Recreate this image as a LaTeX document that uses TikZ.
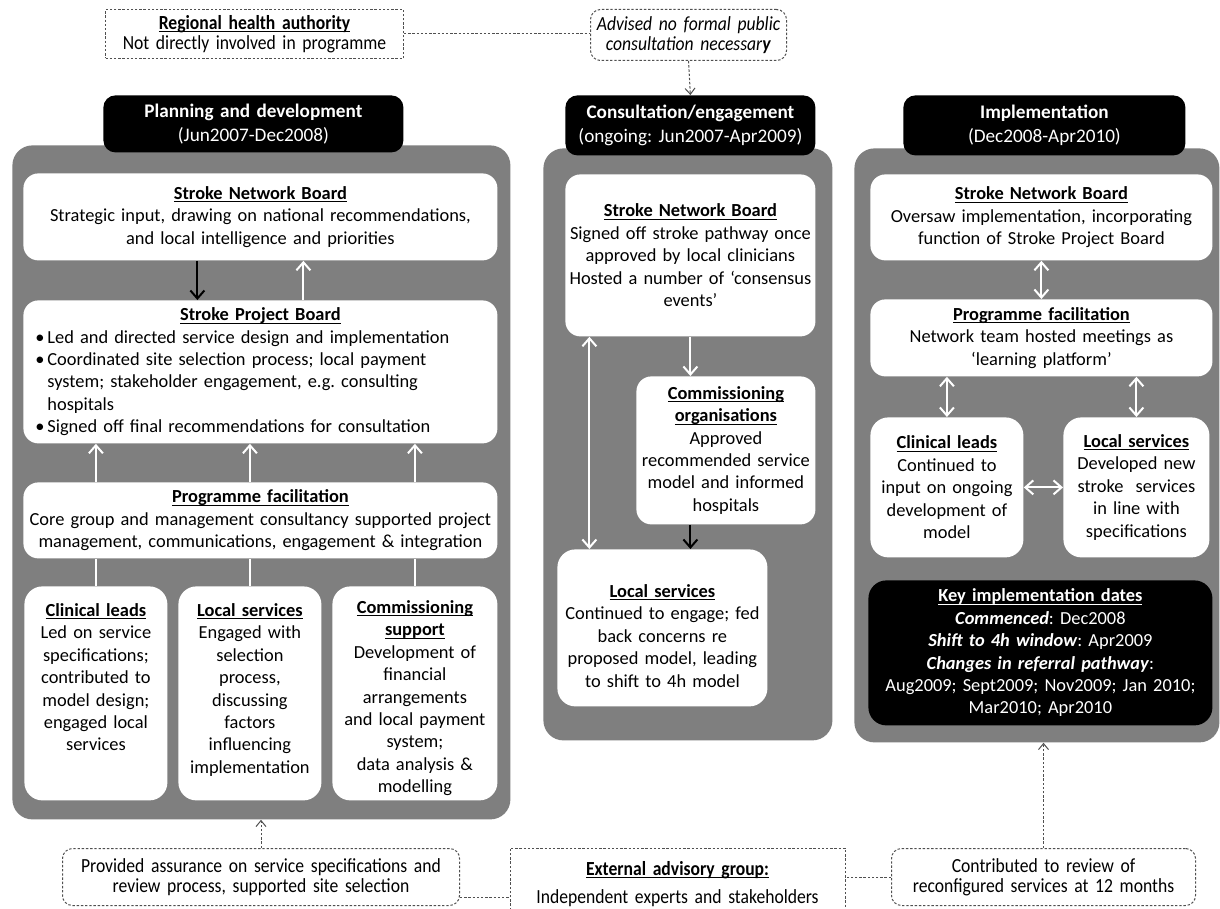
\documentclass[tikz,border=0pt]{standalone}
\usepackage{fontspec}
\setmainfont{Carlito}
\newfontfamily\condfont[FakeStretch=0.88]{Carlito}
\usetikzlibrary{arrows.meta,calc}
\definecolor{panelgray}{RGB}{127,127,127}
\definecolor{dashgray}{RGB}{80,80,80}
\newsavebox\ttlbox
\newcommand\ttl[1]{\leavevmode\sbox\ttlbox{\textbf{#1}}\rlap{\rule[-1.4pt]{\wd\ttlbox}{0.5pt}}\usebox\ttlbox}
\newcommand\bul{\makebox[6pt][l]{\textbullet}}
\newcommand\ind{\hspace*{6pt}}
\frenchspacing
\tikzset{
  panel/.style={fill=panelgray, rounded corners=10pt, inner sep=0pt, anchor=north west},
  hdr/.style={fill=black, text=white, rounded corners=6pt, inner sep=0pt, anchor=north west, align=center, font=\frenchspacing\fontsize{9.6pt}{12pt}\selectfont},
  wbox/.style={fill=white, rounded corners=7.5pt, inner sep=0pt, anchor=north west, align=center, font=\frenchspacing\fontsize{9.2pt}{11.2pt}\selectfont},
  kbox/.style={wbox, fill=black, text=white},
  dline/.style={draw=dashgray, line width=0.5pt, dash pattern=on 1.2pt off 0.9pt},
  dbox/.style={dline, inner sep=0pt, anchor=north west, align=center, font=\condfont\frenchspacing\fontsize{10pt}{10pt}\selectfont},
  darrow/.style={dline, -{Straight Barb[length=3pt,width=5pt]}},
  warrow/.style={draw=white, line width=1pt, -{Straight Barb[length=4pt,width=7pt]}},
  wdarrow/.style={draw=white, line width=1pt, {Straight Barb[length=4pt,width=7pt]}-{Straight Barb[length=4pt,width=7pt]}},
  wline/.style={draw=white, line width=1pt},
  barrow/.style={draw=black, line width=1pt, -{Straight Barb[length=4pt,width=7pt]}},
}
\begin{document}
\begin{tikzpicture}[x=0.5pt,y=-0.5pt]
\useasboundingbox[fill=white] (0,0) rectangle (1220,909);
% panels
\node[panel, minimum width=249pt, minimum height=337pt] (lpanel) at (12,145) {};
\node[panel, minimum width=144.5pt, minimum height=296pt] (mpanel) at (543,148) {};
\node[panel, minimum width=182.5pt, minimum height=297pt] (rpanel) at (854,148) {};
% headers
\node[hdr, minimum width=150pt, minimum height=28.5pt, text width=146pt] (lhead) at (103,95) {\textbf{Planning and development}\\(Jun2007-Dec2008)};
\node[hdr, minimum width=125pt, minimum height=30pt, text width=121pt] (chead) at (565,95) {\textbf{Consultation/engagement}\\(ongoing: Jun2007-Apr2009)};
\node[hdr, minimum width=141pt, minimum height=30pt, text width=137pt] (ihead) at (903,95) {\textbf{Implementation}\\(Dec2008-Apr2010)};
% left column
\node[wbox, minimum width=237pt, minimum height=43.5pt, text width=233pt] (lsnb) at (23,173) {\ttl{Stroke Network Board}\\Strategic input, drawing on national recommendations,\\and local intelligence and priorities};
\node[wbox, align=left, minimum width=237pt, minimum height=71.5pt, text width=225pt] (lspb) at (23,300) {\centerline{\ttl{Stroke Project Board}}
\bul Led and directed service design and implementation\\
\bul Coordinated site selection process; local payment\\
\ind system; stakeholder engagement, e.g. consulting\\
\ind hospitals\\
\bul Signed off final recommendations for consultation};
\node[wbox, minimum width=237pt, minimum height=38pt, text width=235pt] (lpf) at (23,482) {\ttl{Programme facilitation}\\Core group and management consultancy supported project\\management, communications, engagement \& integration};
\node[wbox, rounded corners=9pt, minimum width=71.5pt, text height=15pt, text depth=92pt, text width=69pt] (lcl) at (24,586) {\ttl{Clinical leads}\\Led on service\\specifications;\\contributed to\\model design;\\engaged local\\services};
\node[wbox, rounded corners=9pt, minimum width=71.5pt, text height=15pt, text depth=92pt, text width=69pt] (lls) at (178,586) {\ttl{Local services}\\Engaged with\\selection\\process,\\discussing\\factors\\influencing\\implementation};
\node[wbox, rounded corners=9pt, minimum width=82.5pt, text height=13.5pt, text depth=93.5pt, text width=80pt] (lcs) at (332,586) {\ttl{Commissioning}\\\ttl{support}\\Development of\\financial\\arrangements\\and local payment\\system;\\data analysis \&\\modelling};
% middle column
\node[wbox, minimum width=125pt, minimum height=81pt, text width=121pt] (msnb) at (565,174) {\ttl{Stroke Network Board}\\Signed off stroke pathway once\\approved by local clinicians\\Hosted a number of ‘consensus\\events’};
\node[wbox, minimum width=89.5pt, minimum height=74pt, text width=86pt] (mco) at (636,376) {\ttl{Commissioning}\\\ttl{organisations}\\Approved\\recommended service\\model and informed\\hospitals};
\node[wbox, rounded corners=9pt, minimum width=105pt, text height=24pt, text depth=54.5pt, text width=101pt] (mls) at (557,549) {\ttl{Local services}\\Continued to engage; fed\\back concerns re\\proposed model, leading\\to shift to 4h model};
% right column
\node[wbox, minimum width=171pt, minimum height=43pt, text width=167pt] (rsnb) at (870,174) {\ttl{Stroke Network Board}\\Oversaw implementation, incorporating\\function of Stroke Project Board};
\node[wbox, minimum width=171pt, minimum height=38.5pt, text width=167pt] (rpf) at (870,299) {\ttl{Programme facilitation}\\Network team hosted meetings as\\‘learning platform’};
\node[wbox, rounded corners=9pt, minimum width=76.5pt, minimum height=70pt, text width=73pt] (rcl) at (870,417) {\ttl{Clinical leads}\\Continued to\\input on ongoing\\development of\\model};
\node[wbox, rounded corners=9pt, minimum width=73pt, minimum height=70pt, text width=70pt] (rls) at (1063,417) {\ttl{Local services}\\Developed new\\stroke\ \ services\\in line with\\specifications};
\node[kbox, rounded corners=9pt, minimum width=172pt, minimum height=72.5pt, text width=168pt] (rkey) at (868,580) {\ttl{Key implementation dates}\\\textbf{\textit{Commenced}}: Dec2008\\\textbf{\textit{Shift to 4h window}}: Apr2009\\\textbf{\textit{Changes in referral pathway}}:\\Aug2009; Sept2009; Nov2009; Jan 2010;\\Mar2010; Apr2010};
% top dashed boxes
\node[dbox, minimum width=149pt, minimum height=24.5pt, text width=145pt] (rha) at (105,9) {\ttl{Regional health authority}\\Not directly involved in programme};
\node[dbox, rounded corners=5pt, minimum width=98pt, minimum height=25.5pt, text width=95pt] (adv) at (590,9) {\textit{Advised no formal public}\\\textit{consultation necessar\textbf{y}}};
% bottom dashed boxes
\node[dbox, rounded corners=5pt, minimum width=198.5pt, minimum height=28.5pt, text width=194pt] (prov) at (62,848) {Provided assurance on service specifications and\\review process, supported site selection};
\node[dbox, draw=none, minimum width=167pt, text height=13.5pt, text depth=17pt, text width=163pt, font=\condfont\frenchspacing\fontsize{10pt}{14pt}\selectfont] (ext) at (510,848) {\ttl{External advisory group:}\\Independent experts and stakeholders};
\draw[dline] (ext.south west) -- (ext.north west) -- (ext.north east) -- (ext.south east);
\node[dbox, rounded corners=5pt, minimum width=152pt, minimum height=28.5pt, text width=148pt] (contrib) at (891,848) {Contributed to review of\\reconfigured services at 12 months};
% left connectors
\draw[barrow] ($(lsnb.south)+(-63,0)$) -- ($(lsnb.south |- lspb.north)+(-63,0)$);
\draw[warrow] ($(lspb.north)+(43,0)$) -- ($(lspb.north |- lsnb.south)+(43,0)$);
\foreach \b in {lcl,lls,lcs}{
  \draw[warrow] (lpf.north -| \b.north) -- (lspb.south -| \b.north);
  \draw[wline] (\b.north) -- (lpf.south -| \b.north);
}
% middle connectors
\draw[warrow] (msnb.south) -- (msnb.south |- mco.north);
\draw[barrow] (mco.south -| msnb.south) -- (mls.north -| msnb.south);
\draw[wdarrow] ($(msnb.south)+(-101,0)$) -- ($(msnb.south |- mls.north)+(-101,0)$);
% right connectors
\draw[wdarrow] (rsnb.south) -- (rpf.north);
\draw[wdarrow] (rpf.south -| rcl.north) -- (rcl.north);
\draw[wdarrow] (rpf.south -| rls.north) -- (rls.north);
\draw[wdarrow] (rcl.east) -- (rls.west);
% dashed connectors
\draw[dline] (rha.east) -- (rha.east -| adv.west);
\draw[darrow] (adv.south) -- (chead.north);
\draw[darrow] (prov.north) -- (prov.north |- lpanel.south);
\draw[dline] ($(prov.east)+(0,20)$) -- ($(prov.east -| ext.west)+(0,20)$);
\draw[dline] (contrib.west) -- (contrib.west -| ext.east);
\draw[darrow] (contrib.north) -- (contrib.north |- rpanel.south);
\end{tikzpicture}
\end{document}
